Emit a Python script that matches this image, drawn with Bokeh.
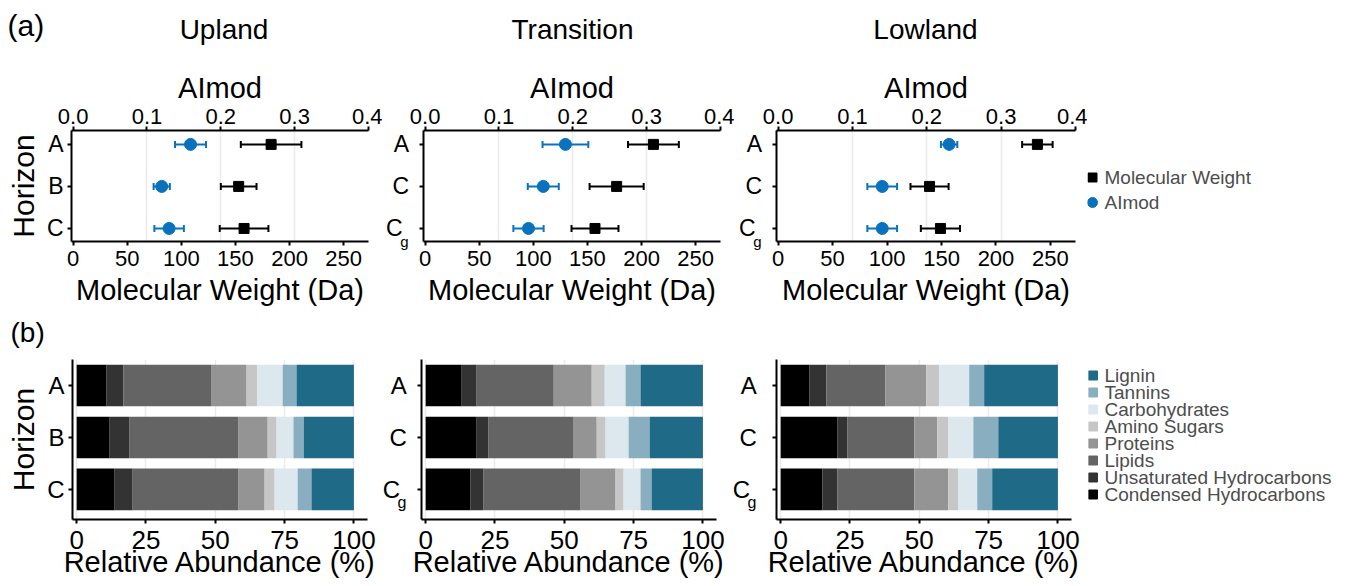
from bokeh.plotting import figure
from bokeh.models import (Range1d, LinearAxis, FixedTicker, Whisker, TeeHead, ColumnDataSource,
                          Grid, PrintfTickFormatter)
from bokeh.layouts import row, column
from bokeh.embed import file_html
from bokeh.resources import INLINE
from bokeh.core.properties import value

# ---------------- data ----------------
regions = ["Upland", "Transition", "Lowland"]
panel_tags = ["(a)", "(b)"]
horizons = [["A", "B", "C"], ["A", "C", "Cg"], ["A", "C", "Cg"]]

mw_mean = [[183, 153, 158], [211, 177, 157], [238, 139, 149]]
mw_sd = [[28, 16.5, 22.5], [23.5, 25, 21.7], [14, 17.5, 18]]
aimod_mean = [[0.159, 0.120, 0.130], [0.190, 0.160, 0.140], [0.230, 0.140, 0.140]]
aimod_sd = [[0.021, 0.011, 0.020], [0.031, 0.021, 0.0205], [0.011, 0.020, 0.020]]

classes = ["Condensed Hydrocarbons", "Unsaturated Hydrocarbons", "Lipids", "Proteins",
           "Amino Sugars", "Carbohydrates", "Tannins", "Lignin"]
class_colors = ["#000000", "#333333", "#636463", "#949494", "#c6c6c6", "#dce7ee", "#88aebf", "#1f6a86"]

abund_upland = [[10.8, 6.1, 31.8, 12.6, 3.8, 9.2, 5.0, 20.7],
                [11.9, 7.2, 39.3, 10.5, 3.2, 6.1, 3.7, 18.1],
                [13.7, 6.5, 38.2, 9.4, 3.6, 8.3, 5.0, 15.3]]
abund_transition = [[13.0, 5.4, 27.8, 13.7, 4.7, 7.5, 5.4, 22.5],
                    [18.4, 4.3, 30.7, 8.3, 3.2, 8.3, 7.6, 19.2],
                    [16.2, 4.7, 35.0, 12.6, 2.9, 6.1, 4.0, 18.5]]
abund_lowland = [[10.3, 6.2, 21.2, 14.8, 4.7, 10.8, 5.4, 26.6],
                 [20.4, 3.6, 24.2, 8.3, 4.0, 9.0, 9.0, 21.5],
                 [15.0, 5.4, 27.8, 12.3, 3.6, 6.8, 5.4, 23.7]]
abundances = [abund_upland, abund_transition, abund_lowland]

mw_ticks = [0, 50, 100, 150, 200, 250]
aimod_ticks = [0.0, 0.1, 0.2, 0.3, 0.4]
abund_ticks = [0, 25, 50, 75, 100]

# ---------------- style / layout ----------------
FONT = "Liberation Sans"
BLUE = "#0a72bd"
GRID = "#ebebeb"
LEG_TEXT = "#4d4d4d"
NB = "\u00a0"
MW_LO, MW_HI = -1.5, 273.0
AI_LO, AI_HI = MW_LO * 0.4 / MW_HI, 0.4
TOTAL_W = 1345
TITLE_X = [223.5, 572, 925]


def blank_fig(w, h, xr, yr, tb=0, bb=0):
    p = figure(width=w, height=h, x_range=xr, y_range=yr, output_backend="svg",
               toolbar_location=None, title=None, min_border_left=0, min_border_right=0,
               min_border_top=tb, min_border_bottom=bb,
               x_axis_location=None, y_axis_location=None)
    p.center = [r for r in p.center if not isinstance(r, Grid)]
    p.outline_line_color = None
    return p


def base_fig(w, h, lb, rb, tb, bb, xr, yr):
    p = figure(width=w, height=h, x_range=xr, y_range=yr, output_backend="svg",
               toolbar_location=None, title=None, min_border_left=lb, min_border_right=rb,
               min_border_top=tb, min_border_bottom=bb,
               x_axis_location=None, y_axis_location=None)
    p.center = [r for r in p.center if not isinstance(r, Grid)]
    p.outline_line_color = None
    p.background_fill_color = "white"
    p.border_fill_color = "white"
    return p


def style_axis(ax, tick_px, label_px, standoff, label_standoff):
    ax.axis_line_color = "black"
    ax.axis_line_width = 2
    ax.major_tick_line_color = "black"
    ax.major_tick_line_width = 2
    ax.major_tick_out = 4
    ax.major_tick_in = 0
    ax.minor_tick_line_color = None
    ax.major_label_text_font = FONT
    ax.major_label_text_font_size = f"{tick_px}px"
    ax.major_label_text_color = "black"
    ax.major_label_standoff = standoff
    ax.axis_label_text_font = FONT
    ax.axis_label_text_font_size = f"{label_px}px"
    ax.axis_label_text_font_style = "normal"
    ax.axis_label_text_color = "black"
    ax.axis_label_standoff = label_standoff


def y_labels(hz):
    pad = "Cg" in hz
    out = {}
    for k, h in enumerate(hz):
        yv = 3 - k
        if h == "Cg":
            out[yv] = "C" + NB * 2
        else:
            out[yv] = h + (NB if pad else "")
    return out


def add_subscript_axis(p, tick_px, g_px, shift):
    # second left axis that only draws the subscript "g" of C_g beside the "C" label
    g_ax = LinearAxis(ticker=FixedTicker(ticks=[1 - shift]), formatter=PrintfTickFormatter(format="g"))
    g_ax.axis_line_color = None
    g_ax.major_tick_line_color = None
    g_ax.minor_tick_line_color = None
    g_ax.major_tick_out = 0
    g_ax.major_tick_in = 0
    g_ax.major_label_text_font = FONT
    g_ax.major_label_text_font_size = f"{g_px}px"
    g_ax.major_label_text_color = "black"
    g_ax.major_label_standoff = -round(0.722 * tick_px + 0.556 * g_px + 0.5)
    p.add_layout(g_ax, "left")


ys = [3, 2, 1]

# ---------------- header (a) ----------------
HDR1_H = 50
hdr1 = blank_fig(TOTAL_W, HDR1_H, Range1d(0, TOTAL_W), Range1d(HDR1_H, 0))
hdr1.text(x=[7], y=[25], text=[panel_tags[0]], text_baseline="middle", text_align="left",
          text_font=value(FONT), text_font_size=value("30px"), text_color="black")
hdr1.text(x=TITLE_X, y=[29] * 3, text=regions, text_baseline="middle",
          text_align="center", text_font=value(FONT), text_font_size=value("28px"),
          text_color="black")

# ---------------- row 1: AImod / molecular weight ----------------
TOP_H, TOP_TB, TOP_BB = 268, 80, 77
top_geo = [(71, 297, 14), (41, 297, 14), (42, 299, 12)]
top_figs = []
for i in range(3):
    lb, fw, rb = top_geo[i]
    p = base_fig(lb + fw + rb, TOP_H, lb, rb, TOP_TB, TOP_BB,
                 Range1d(MW_LO, MW_HI), Range1d(0.69, 3.33))
    p.extra_x_ranges = {"ai": Range1d(AI_LO, AI_HI)}
    p.add_layout(Grid(dimension=0, ticker=FixedTicker(ticks=[0.1, 0.2, 0.3]), x_range_name="ai",
                      grid_line_color=GRID, grid_line_width=1.5))

    ax_top = LinearAxis(x_range_name="ai", ticker=FixedTicker(ticks=aimod_ticks),
                        major_label_overrides={t: f"{t:.1f}" for t in aimod_ticks},
                        axis_label="AImod")
    style_axis(ax_top, 22, 29, 3, 2)
    p.add_layout(ax_top, "above")

    ax_bot = LinearAxis(ticker=FixedTicker(ticks=mw_ticks), axis_label="Molecular Weight (Da)")
    style_axis(ax_bot, 22, 29, 5, 5)
    p.add_layout(ax_bot, "below")

    ax_y = LinearAxis(ticker=FixedTicker(ticks=ys), major_label_overrides=y_labels(horizons[i]),
                      axis_label="Horizon" if i == 0 else None)
    style_axis(ax_y, 23, 30, 4, 4)
    p.add_layout(ax_y, "left")
    if "Cg" in horizons[i]:
        add_subscript_axis(p, 23, 15, 0.30)

    m, s = mw_mean[i], mw_sd[i]
    a, sa = aimod_mean[i], aimod_sd[i]
    src = ColumnDataSource(dict(
        y=ys, mw=m, mw_lo=[v - e for v, e in zip(m, s)], mw_hi=[v + e for v, e in zip(m, s)],
        ai=a, ai_lo=[v - e for v, e in zip(a, sa)], ai_hi=[v + e for v, e in zip(a, sa)]))

    p.add_layout(Whisker(source=src, base="y", lower="mw_lo", upper="mw_hi", dimension="width",
                         line_color="black", line_width=2,
                         upper_head=TeeHead(size=7, line_color="black", line_width=2),
                         lower_head=TeeHead(size=7, line_color="black", line_width=2)))
    p.add_layout(Whisker(source=src, base="y", lower="ai_lo", upper="ai_hi", dimension="width",
                         x_range_name="ai", line_color=BLUE, line_width=2,
                         upper_head=TeeHead(size=7, line_color=BLUE, line_width=2),
                         lower_head=TeeHead(size=7, line_color=BLUE, line_width=2)))
    p.scatter("mw", "y", source=src, marker="square", size=10, color="black")
    p.scatter("ai", "y", source=src, marker="circle", size=12, color=BLUE, x_range_name="ai")
    top_figs.append(p)

LEG1_W = TOTAL_W - sum(lb + fw + rb for lb, fw, rb in top_geo)
leg1 = blank_fig(LEG1_W, TOP_H, Range1d(0, LEG1_W), Range1d(TOP_H - TOP_BB, TOP_TB), TOP_TB, TOP_BB)
leg1.scatter(x=[5], y=[127], marker="square", size=9, color="black")
leg1.scatter(x=[5], y=[152], marker="circle", size=10, color=BLUE)
leg1.text(x=[17, 17], y=[127, 152], text=["Molecular Weight", "AImod"], text_baseline="middle",
          text_font=value(FONT), text_font_size=value("19px"), text_color=LEG_TEXT)

# ---------------- header (b) ----------------
HDR2_H = 35
hdr2 = blank_fig(TOTAL_W, HDR2_H, Range1d(0, TOTAL_W), Range1d(HDR2_H, 0))
hdr2.text(x=[10], y=[14], text=[panel_tags[1]], text_baseline="middle", text_align="left",
          text_font=value(FONT), text_font_size=value("28px"), text_color="black")

# ---------------- row 2: compound classes ----------------
BOT_H, BOT_TB, BOT_BB = 233, 6, 67
bot_geo = [(72, 295, 12, 4), (42, 295, 12, 4), (48, 295, 17, 9)]
bot_figs = []
for i in range(3):
    lb, fw, rb, so = bot_geo[i]
    p = base_fig(lb + fw + rb, BOT_H, lb, rb, BOT_TB, BOT_BB,
                 Range1d(-1.5, 104.9), Range1d(0.42, 3.5))
    p.add_layout(Grid(dimension=0, ticker=FixedTicker(ticks=abund_ticks),
                      grid_line_color=GRID, grid_line_width=1.5))

    ax_bot = LinearAxis(ticker=FixedTicker(ticks=abund_ticks), axis_label="Relative Abundance (%)")
    style_axis(ax_bot, 26, 29, 7, -6)
    p.add_layout(ax_bot, "below")

    ax_y = LinearAxis(ticker=FixedTicker(ticks=ys), major_label_overrides=y_labels(horizons[i]),
                      axis_label="Horizon" if i == 0 else None)
    style_axis(ax_y, 24, 30, so, 4)
    p.add_layout(ax_y, "left")
    if "Cg" in horizons[i]:
        add_subscript_axis(p, 24, 16, 0.245)

    data = {"y": ys}
    for k, c in enumerate(classes):
        data[c] = [r[k] for r in abundances[i]]
    src = ColumnDataSource(data)
    p.hbar_stack(classes, y="y", height=0.8, color=class_colors, line_color=None, source=src)
    bot_figs.append(p)

LEG2_W = TOTAL_W - sum(lb + fw + rb for lb, fw, rb, so in bot_geo)
leg2 = blank_fig(LEG2_W, BOT_H, Range1d(0, LEG2_W), Range1d(BOT_H - BOT_BB, BOT_TB), BOT_TB, BOT_BB)
leg_names = classes[::-1]
leg_cols = class_colors[::-1]
leg_y = [22 + 17 * k for k in range(len(leg_names))]
leg2.scatter(x=[4.5] * len(leg_names), y=leg_y, marker="square", size=9, color=leg_cols)
leg2.text(x=[16] * len(leg_names), y=leg_y, text=leg_names, text_baseline="middle",
          text_font=value(FONT), text_font_size=value("19px"), text_color=LEG_TEXT)

layout = column(hdr1, row(*top_figs, leg1, spacing=0), hdr2, row(*bot_figs, leg2, spacing=0),
                spacing=0)
open("out.html", "w").write(file_html(layout, INLINE))
